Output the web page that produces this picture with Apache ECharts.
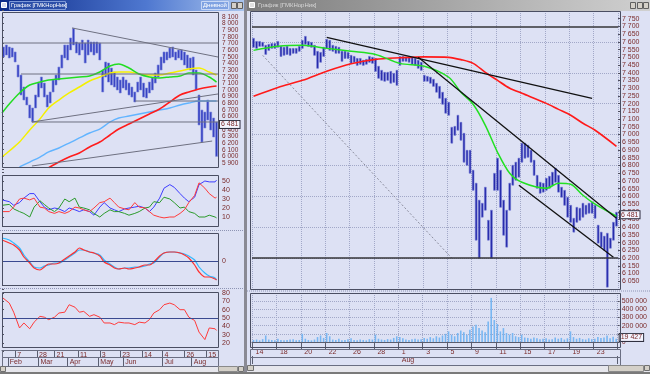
<!DOCTYPE html>
<html><head><meta charset="utf-8">
<script src="https://cdn.jsdelivr.net/npm/echarts@6.0.0/dist/echarts.min.js"></script>
<style>
html,body{margin:0;padding:0;background:#d4d0c8;}
#wrap{position:relative;width:650px;height:374px;background:#dde1f4;overflow:hidden;}
.bg{position:absolute;}
#c{position:absolute;left:0;top:0;width:650px;height:374px;}
</style></head><body>
<div id="wrap">
<div class="bg" style="left:0;top:0;width:244px;height:11px;background:linear-gradient(to right,#0c2a88,#4f78d0 60%,#a9c4ee);"></div>
<div class="bg" style="left:247px;top:0;width:403px;height:11px;background:linear-gradient(to right,#7c7c7c,#b8b8b8 70%,#d0d0d0);"></div>
<div class="bg" style="left:244px;top:0;width:3px;height:374px;background:#8a8a94;"></div>
<div class="bg" style="left:0;top:366px;width:244px;height:6px;background:#e6e6ec;"></div>
<div class="bg" style="left:247px;top:365px;width:403px;height:7px;background:#e6e6ec;"></div>
<div class="bg" style="left:0;top:372px;width:650px;height:2px;background:#7a7a7a;"></div>
<div id="c"></div>
</div>
<script>
// ---------- LEFT (daily) window data ----------
const leftDaysPerBar = 2;
const leftHigh = [7648,7678,7648,7633,7573,7377,7226,7045,6894,6774,6729,6925,7105,7196,7105,6925,6970,7151,7226,7346,7527,7678,7678,7784,7930,7723,7708,7753,7708,7753,7723,7723,7723,7708,7301,7422,7407,7331,7271,7196,7151,7196,7151,7105,7045,6970,7120,7196,7105,7030,7120,7181,7256,7377,7497,7573,7573,7633,7648,7573,7603,7603,7573,7527,7482,7497,7301,6925,6698,6668,6849,6668,6578,6518];
const leftLow = [7497,7527,7482,7497,7422,7196,6925,6849,6774,6578,6518,6729,6894,7030,6894,6744,6804,6970,7075,7151,7331,7482,7452,7603,7678,7557,7527,7603,7407,7527,7573,7527,7557,7452,6970,7196,7120,7075,7045,7000,6955,7030,7000,6925,6894,6819,6970,7000,6894,6879,6955,7000,7105,7196,7301,7407,7452,7482,7497,7452,7482,7452,7377,7331,7301,7226,7000,6473,6216,6427,6548,6397,6292,6000];
const lastClose = 6481;

const maDays = [0,5,12,19,26,32,39,46,53,60,67,74,80,87,94,101,108,115,122,128,135,142,147];
const maGreenL = [6653,6789,6955,7075,7120,7151,7166,7181,7196,7211,7271,7362,7392,7331,7241,7196,7181,7196,7211,7256,7256,7196,7120];
const maYellowL = [5990,6081,6216,6397,6563,6729,6849,6955,7045,7136,7196,7256,7271,7271,7241,7226,7226,7256,7286,7316,7331,7271,7226];
const maCyanL = [null,null,5840,5915,5990,6066,6126,6201,6277,6352,6412,6518,6578,6608,6638,6668,6698,6729,6774,6804,6834,6834,6834];
const maRedL = [null,null,null,null,null,5830,5915,5990,6050,6141,6216,6322,6412,6488,6563,6638,6714,6819,6925,6970,7015,7045,7060];

const leftTrend = [[[48,7935],[148,7497]], [[20.5,6518],[148,6940]], [[20.5,5855],[144,6231]]];
const leftLevelValues = [7708,7241,6518,6834];
const leftLevelStart = [0,13,20.5,91];

const oscDays = [0,5,8,12,15,19,22,26,29,32,36,39,43,46,50,53,56,60,63,67,70,74,77,80,84,87,91,94,98,101,104,108,111,115,118,122,125,128,132,135,139,142,146,147];
const adxBlue = [29,27,23,26,31,36,36,27,21,18,20,19,16,20,18,16,18,16,12,21,26,20,18,16,19,20,21,22,20,16,21,31,42,46,43,36,31,27,32,46,50,49,49,51];
const adxRed = [16,16,21,30,31,29,31,21,20,16,14,16,14,16,21,20,18,16,20,26,27,31,26,21,19,18,26,21,20,16,12,10,9,10,10,14,18,26,34,48,42,36,31,32];
const adxGreen = [23,24,19,16,14,10,21,28,24,20,16,20,30,27,31,21,20,18,14,10,14,18,16,16,14,12,14,16,20,21,27,26,32,30,26,20,21,16,14,10,10,12,10,9];
const macdMain = [210,180,160,110,40,-20,-70,-90,-60,-30,-30,-20,20,50,90,130,110,90,80,50,-10,-40,-70,-80,-70,-80,-70,-60,-40,-40,-10,50,80,90,90,80,60,30,-40,-110,-160,-160,-180,-190];
const macdSignal = [230,210,180,130,60,-10,-60,-70,-50,-40,-20,-20,10,40,80,110,110,90,80,60,10,-30,-60,-80,-70,-70,-60,-60,-50,-30,-20,40,80,90,90,80,70,50,10,-60,-120,-150,-170,-190];
const rsi = [75,68,57,38,44,37,45,52,51,48,51,56,57,66,63,57,58,52,54,51,44,44,42,45,44,44,42,45,44,48,56,60,66,68,66,60,60,51,47,33,24,38,37,35];

const leftDayTicks = [9,24,36,52,67,81,96,110,125,140];
const leftDayLabels = ['7','28','21','11','3','23','14','4','26','15'];
const leftMonthTicks = [4,25,45,66,83,110,130];
const leftMonthLabels = ['Feb','Mar','Apr','May','Jun','Jul','Aug'];

// ---------- RIGHT (intraday) window data ----------
const rightDays = ['14','15','18','19','20','21','22','25','26','27','28','29','1','2','3','4','5','8','9','10','11','12','15','16','17','18','19','22','23','24'];
const barsPerDay = 4;
const rightMonthStartDay = 12;
const rightMonthName = 'Aug';
const rightHigh = [7623,7603,7603,7597,7578,7584,7590,7590,7603,7571,
7565,7571,7558,7558,7558,7571,7610,7636,7603,7597,
7578,7539,7532,7565,7616,7610,7578,7571,7565,7539,
7539,7532,7513,7506,7493,7493,7481,7487,7506,7500,
7493,7442,7416,7403,7403,7409,7396,7416,7506,7506,
7500,7506,7500,7493,7481,7468,7384,7377,7371,7358,
7332,7312,7274,7235,7209,7047,7053,7125,7079,7008,
6898,6898,6769,6685,6575,6555,6659,6445,6510,6749,
6847,6769,6575,6510,6685,6801,6821,6847,6944,6944,
6931,6898,6834,6736,6691,6685,6717,6730,6756,6782,
6736,6659,6639,6594,6542,6458,6529,6523,6555,6542,
6555,6562,6542,6413,6368,6342,6361,6329,6432,6497];
const rightLow = [7565,7558,7571,7571,7519,7545,7558,7558,7565,7506,
7513,7519,7513,7526,7526,7539,7558,7584,7571,7565,
7513,7429,7468,7506,7558,7545,7539,7526,7526,7474,
7493,7493,7461,7468,7448,7455,7448,7455,7468,7461,
7409,7364,7351,7345,7351,7332,7338,7319,7448,7474,
7474,7468,7455,7448,7429,7416,7345,7345,7332,7312,
7274,7235,7196,7138,7125,6944,6995,7028,6963,6821,
6801,6749,6639,6316,6200,6465,6510,6316,6200,6639,
6639,6529,6348,6271,6510,6672,6704,6724,6821,6847,
6853,6821,6736,6652,6620,6627,6639,6652,6672,6691,
6627,6594,6542,6465,6432,6368,6432,6445,6465,6484,
6491,6491,6458,6297,6271,6251,6012,6264,6316,6407];
const rightVolK = [25,30,20,35,80,30,25,20,40,25,
20,25,30,35,20,25,100,40,25,20,
30,60,80,50,110,70,30,25,40,20,
25,35,45,25,20,30,25,20,35,30,
90,40,30,25,35,30,50,70,60,45,
30,25,35,40,30,35,50,40,60,45,
70,55,80,100,130,90,70,110,140,120,
90,150,190,210,170,140,120,250,540,270,
220,130,170,110,90,110,70,60,90,55,
50,40,55,45,35,40,45,30,35,55,
40,50,30,45,130,60,40,50,35,30,
45,35,40,60,50,55,80,45,65,40];
const lastVolume = 19427;

const maIdxR = [0,8,16,24,32,40,48,56,64,68,72,76,80,84,88,96,100,104,108,112,119];
const maRedR = [7248,7305,7351,7410,7458,7487,7497,7503,7500,7485,7461,7403,7351,7300,7267,7202,7163,7125,7073,7028,6924];
const maGreenR = [7545,7571,7578,7558,7539,7519,7461,7442,7371,7274,7196,7060,6885,6749,6691,6652,6685,6678,6607,6549,6471];
const rightTrend = [[[24,7629],[111,7235]], [[54,7500],[119,6458]], [[87,6672],[118,6206]]];
const rightDotted = [[3,7513],[65,6200]];
const rightLevelValues = [7695, 6200];

// ---------- helpers ----------
const LABEL = '#7a2a2a';
const FONT = 'Liberation Sans';
const sp = v => String(Math.round(v)).replace(/\B(?=(\d{3})+(?!\d))/g, ' ');
const pairs = (xs, ys) => xs.map((x, i) => [x, ys[i]]).filter(p => p[1] != null);
const rightCats = [];
rightDays.forEach(d => { for (let j = 0; j < barsPerDay; j++) rightCats.push(d + '/' + j); });

function rangeBar(width, color, edge) {
  return function (params, api) {
    const x = api.value(0), lo = api.value(1), hi = api.value(2);
    const t = api.coord([x, hi]), b = api.coord([x, lo]);
    return {type: 'rect', shape: {x: t[0] - width / 2, y: t[1], width: width, height: Math.max(1, b[1] - t[1])},
      style: {fill: color, stroke: edge, lineWidth: 0.6}};
  };
}
function line(xi, yi, data, color, width, extra) {
  return Object.assign({type: 'line', xAxisIndex: xi, yAxisIndex: yi, data: data, showSymbol: false, symbol: 'none',
    silent: true, z: 3, lineStyle: {color: color, width: width}}, extra || {});
}
const hiddenX = (g, min, max) => ({type: 'value', gridIndex: g, min: min, max: max, show: false});
function yAx(g, min, max, interval, fmt, size, extra) {
  return Object.assign({type: 'value', gridIndex: g, position: 'right', min: min, max: max, interval: interval,
    axisLine: {show: false}, axisTick: {show: true, length: 2, lineStyle: {color: '#505060'}},
    splitLine: {show: false},
    axisLabel: {formatter: fmt, color: LABEL, fontSize: size, fontFamily: FONT, margin: 4}}, extra || {});
}
function boxMark(value, txt, off) {
  return {silent: true, symbol: 'none', lineStyle: {color: 'rgba(0,0,0,0)', width: 1, type: 'solid'},
    emphasis: {disabled: true},
    data: [{yAxis: value}],
    label: {show: true, position: 'end', formatter: txt, color: LABEL, fontSize: 7, fontFamily: FONT,
      backgroundColor: '#f4f5ff', borderColor: '#303040', borderWidth: 1, padding: [0, 1, 0, 1], distance: 2,
      offset: off || [0, 0]}};
}

const leftBars = leftLow.map((lo, k) => [k * leftDaysPerBar + leftDaysPerBar / 2, lo, leftHigh[k]]);
const rightBars = rightLow.map((lo, i) => [i, lo, rightHigh[i]]);

const series = [
  // left main
  {type: 'custom', name: 'daily', xAxisIndex: 0, yAxisIndex: 0, data: leftBars, encode: {x: 0, y: [1, 2]},
    renderItem: rangeBar(2, '#3440c2', '#7a84dc'), z: 2, silent: true},
  line(0, 0, pairs(maDays, maCyanL), '#62b4ff', 1.4, {smooth: 0.3}),
  line(0, 0, pairs(maDays, maRedL), '#ff1c1c', 1.6, {smooth: 0.3, markLine: boxMark(lastClose, sp(lastClose))}),
  line(0, 0, pairs(maDays, maYellowL), '#f4f000', 1.5, {smooth: 0.3}),
  line(0, 0, pairs(maDays, maGreenL), '#22dd22', 1.5, {smooth: 0.3}),
  ...leftTrend.map(seg => line(0, 0, seg, '#6e7080', 1)),
  ...leftLevelValues.map((v, i) => line(0, 0, [[leftLevelStart[i], v], [148, v]], '#6e7080', 1)),
  // ADX panel
  line(1, 1, pairs(oscDays, adxBlue), '#3c3cff', 1),
  line(1, 1, pairs(oscDays, adxGreen), '#2a9a2a', 1),
  line(1, 1, pairs(oscDays, adxRed), '#ff3a3a', 1),
  // MACD panel
  line(2, 2, pairs(oscDays, macdSignal), '#30b8ff', 1.2, {smooth: 0.3, markLine: {silent: true, symbol: 'none',
    lineStyle: {color: '#3a4a90', width: 1, type: 'solid'}, label: {show: false}, data: [{yAxis: 0}]}}),
  line(2, 2, pairs(oscDays, macdMain), '#ff3030', 1.2, {smooth: 0.3}),
  // RSI panel
  line(3, 3, pairs(oscDays, rsi), '#ff3a3a', 1, {markLine: {silent: true, symbol: 'none',
    lineStyle: {color: '#3a4a90', width: 1, type: 'solid'}, label: {show: false}, data: [{yAxis: 50}]}}),
  // right main
  {type: 'custom', name: 'intraday', xAxisIndex: 5, yAxisIndex: 4, data: rightBars, encode: {x: 0, y: [1, 2]},
    renderItem: rangeBar(1.8, '#1e22a6', '#6e76d4'), z: 2, silent: true},
  line(5, 4, rightDotted, '#8a8c9c', 1, {lineStyle: {color: '#8a8c9c', width: 1, type: [2, 2]}}),
  line(5, 4, pairs(maIdxR, maRedR), '#ff1a1a', 1.6, {smooth: 0.3, markLine: boxMark(lastClose, sp(lastClose))}),
  line(5, 4, pairs(maIdxR, maGreenR), '#22e022', 1.5, {smooth: 0.3, markLine: {silent: true, symbol: 'none',
    lineStyle: {color: '#343438', width: 1.6, type: 'solid'}, label: {show: false},
    data: rightLevelValues.map(v => ({yAxis: v}))}}),
  ...rightTrend.map(seg => line(5, 4, seg, '#111111', 1.3)),
  // volume
  {type: 'bar', xAxisIndex: 6, yAxisIndex: 6, data: rightVolK, barWidth: 1.6, silent: true,
    itemStyle: {color: '#78b6f2'}, markLine: boxMark(lastVolume / 1000, sp(lastVolume), [0, -3])}
];

const frames = [[2,12,216,155],[2,175,216,51],[2,233,216,52],[2,292,216,55],[250,11,370,278],[250,293,370,54]];
const rows = [[2,350,216,7],[2,357,216,9],[250,349,370,8],[250,357,370,8]];
const gfx = [];
frames.forEach(f => gfx.push({type: 'rect', silent: true, z: 50, shape: {x: f[0] + 0.5, y: f[1] + 0.5, width: f[2], height: f[3]},
  style: {fill: 'none', stroke: '#4a4e62', lineWidth: 1}}));
rows.forEach(f => gfx.push({type: 'rect', silent: true, z: 50, shape: {x: f[0] + 0.5, y: f[1] + 0.5, width: f[2], height: f[3]},
  style: {fill: 'none', stroke: '#6a6e82', lineWidth: 1}}));
[[0,230.5,244],[0,288.5,244],[247,291,403]].forEach(l => gfx.push({type: 'line', silent: true, z: 40,
  shape: {x1: l[0], y1: l[1], x2: l[0] + l[2], y2: l[1]}, style: {stroke: '#8e94b4', lineWidth: 1, lineDash: [1, 1]}}));
// title bars
gfx.push({type: 'rect', silent: true, z: 60, shape: {x: 1.5, y: 2.5, width: 5, height: 5}, style: {fill: '#d8dcf0', stroke: '#fff'}});
gfx.push({type: 'rect', silent: true, z: 60, shape: {x: 9.5, y: 1.5, width: 56, height: 8}, style: {fill: '#2c4ea8', stroke: '#7f9ad8'}});
gfx.push({type: 'text', silent: true, z: 61, x: 11, y: 2, style: {text: 'График [ГМКНорНик]', fill: '#ffffff', font: '5.8px "Liberation Sans"'}});
gfx.push({type: 'rect', silent: true, z: 60, shape: {x: 201.5, y: 1.5, width: 27, height: 8}, style: {fill: '#7fa2e2', stroke: '#c8d8f6'}});
gfx.push({type: 'text', silent: true, z: 61, x: 203, y: 2, style: {text: 'Дневной', fill: '#ffffff', font: '6px "Liberation Sans"'}});
[231, 237].forEach(x => gfx.push({type: 'rect', silent: true, z: 60, shape: {x: x + 0.5, y: 2.5, width: 5, height: 6},
  style: {fill: '#d4d0c8', stroke: '#606060'}}));
gfx.push({type: 'rect', silent: true, z: 60, shape: {x: 249.5, y: 2.5, width: 5, height: 5}, style: {fill: '#e0e0e0', stroke: '#fff'}});
gfx.push({type: 'text', silent: true, z: 61, x: 258, y: 2, style: {text: 'График [ГМКНорНик]', fill: '#d8d8d8', font: '6px "Liberation Sans"'}});
[630, 637, 643].forEach(x => gfx.push({type: 'rect', silent: true, z: 60, shape: {x: x + 0.5, y: 2.5, width: 5, height: 6},
  style: {fill: '#d4d0c8', stroke: '#606060'}}));
// scrollbars
[[0,366,6],[238,366,6],[247,365,7],[644,365,6]].forEach(s => gfx.push({type: 'rect', silent: true, z: 60,
  shape: {x: s[0] + 0.5, y: s[1] + 0.5, width: s[2] - 1, height: 5}, style: {fill: '#d4d0c8', stroke: '#707070'}}));
gfx.push({type: 'rect', silent: true, z: 60, shape: {x: 218.5, y: 366.5, width: 19, height: 5}, style: {fill: '#d4d0c8', stroke: '#8a8a8a'}});
gfx.push({type: 'rect', silent: true, z: 60, shape: {x: 608.5, y: 365.5, width: 35, height: 6}, style: {fill: '#d4d0c8', stroke: '#8a8a8a'}});

const tickStyle = {color: '#5a5e70'};
const option = {
  animation: false,
  textStyle: {fontFamily: FONT},
  grid: [
    {left: 2, top: 10.36, width: 216, height: 159.28},
    {left: 2, top: 172, width: 216, height: 54},
    {left: 2, top: 233, width: 216, height: 56},
    {left: 2, top: 284.8, width: 216, height: 66.4},
    {left: 252, top: 11, width: 366, height: 278},
    {left: 252, top: 293, width: 366, height: 49}
  ],
  xAxis: [
    hiddenX(0, 0, 148), hiddenX(1, 0, 148), hiddenX(2, 0, 148),
    {type: 'value', gridIndex: 3, min: 0, max: 148, position: 'bottom', offset: -1,
      axisLine: {show: true, lineStyle: tickStyle}, splitLine: {show: false},
      axisTick: {show: true, customValues: leftDayTicks, length: 7, lineStyle: tickStyle},
      axisLabel: {customValues: leftDayTicks, formatter: v => leftDayLabels[leftDayTicks.indexOf(v)], align: 'left',
        margin: 1, padding: [0, 0, 0, 2], color: LABEL, fontSize: 7, fontFamily: FONT}},
    {type: 'value', gridIndex: 3, min: 0, max: 148, position: 'bottom', offset: 6,
      axisLine: {show: false}, splitLine: {show: false},
      axisTick: {show: true, customValues: leftMonthTicks, length: 9, lineStyle: tickStyle},
      axisLabel: {customValues: leftMonthTicks, formatter: v => leftMonthLabels[leftMonthTicks.indexOf(v)], align: 'left',
        margin: 1, padding: [0, 0, 0, 2], color: LABEL, fontSize: 7, fontFamily: FONT}},
    {type: 'category', gridIndex: 4, data: rightCats, boundaryGap: true, axisLine: {show: false}, axisTick: {show: false},
      axisLabel: {show: false}, splitLine: {show: true, interval: barsPerDay * 2 - 1, lineStyle: {color: '#a2a8c8', type: 'dotted'}}},
    {type: 'category', gridIndex: 5, data: rightCats, boundaryGap: true, position: 'bottom', offset: 6,
      axisLine: {show: true, lineStyle: tickStyle},
      axisTick: {show: true, interval: barsPerDay * 2 - 1, length: 8, lineStyle: tickStyle},
      axisLabel: {interval: barsPerDay * 2 - 1, formatter: v => v.split('/')[0], align: 'left', margin: 1,
        padding: [0, 0, 0, 2], color: LABEL, fontSize: 7, fontFamily: FONT},
      splitLine: {show: true, interval: barsPerDay * 2 - 1, lineStyle: {color: '#a2a8c8', type: 'dotted'}}},
    {type: 'category', gridIndex: 5, data: rightCats, boundaryGap: true, position: 'bottom', offset: 14,
      axisLine: {show: false},
      axisTick: {show: true, interval: i => i === rightMonthStartDay * barsPerDay, length: 8, lineStyle: tickStyle},
      axisLabel: {interval: i => i === rightMonthStartDay * barsPerDay, formatter: () => rightMonthName, align: 'left',
        margin: 1, padding: [0, 0, 0, 2], color: LABEL, fontSize: 7, fontFamily: FONT},
      splitLine: {show: false}}
  ],
  yAxis: [
    yAx(0, 5800, 8200, 100, v => (v < 5900 || v > 8100) ? '' : sp(v), 6.5),
    yAx(1, 0, 60, 10, v => (v < 10 || v > 50) ? '' : String(v), 7),
    yAx(2, -280, 280, 280, v => v === 0 ? '0' : '', 7),
    yAx(3, 10, 90, 10, v => (v < 20 || v > 80) ? '' : String(v), 7),
    yAx(4, 6000, 7800, 50, v => (v < 6050 || v > 7750) ? '' : sp(v), 7),
    {type: 'value', gridIndex: 4, position: 'right', min: 6000, max: 7800, interval: 200, axisLabel: {show: false},
      axisTick: {show: false}, axisLine: {show: false}, splitLine: {show: true, lineStyle: {color: '#a2a8c8', type: 'dotted'}}},
    yAx(5, 0, 600, 100, v => v === 0 ? '0' : ((v < 200 || v > 500) ? '' : v + ' 000'), 7,
      {splitLine: {show: true, lineStyle: {color: '#a2a8c8', type: 'dotted'}}})
  ],
  series: series,
  graphic: {elements: gfx}
};
const chart = echarts.init(document.getElementById('c'), null, {renderer: 'canvas'});
chart.setOption(option);
</script></body></html>
